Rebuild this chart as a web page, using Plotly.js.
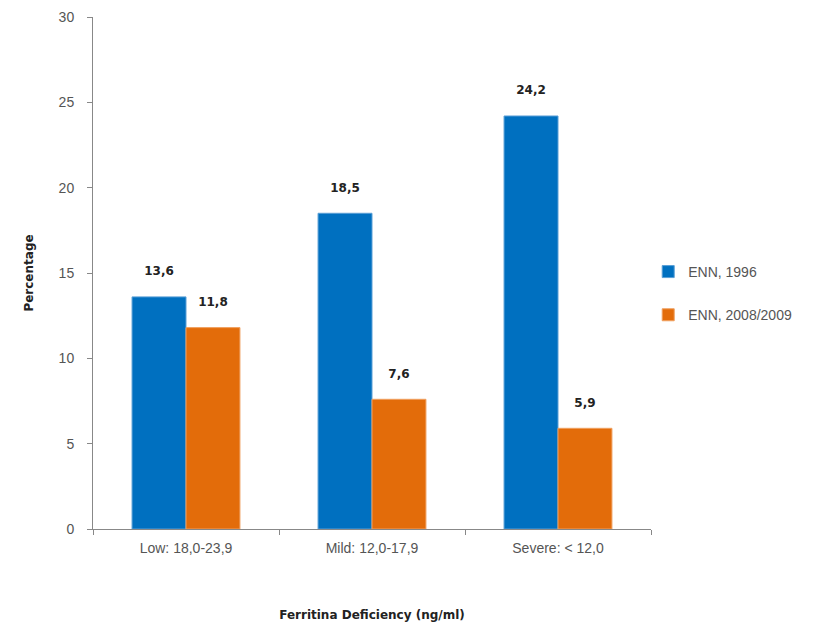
<!DOCTYPE html>
<html><head><meta charset="utf-8">
<script src="https://cdn.plot.ly/plotly-3.0.1.min.js"></script>
<style>html,body{margin:0;padding:0;background:#fff}</style>
</head><body>
<div id="chart" style="width:835px;height:626px"></div>
<script>
const categories = ["Low: 18,0-23,9", "Mild: 12,0-17,9", "Severe: < 12,0"];
const series1Name = "ENN, 1996";
const series1Values = [13.6, 18.5, 24.2];
const series2Name = "ENN, 2008/2009";
const series2Values = [11.8, 7.6, 5.9];
const yTicks = [0, 5, 10, 15, 20, 25, 30];

const labelFont = {family: "DejaVu Sans, Open Sans, sans-serif", size: 12, color: "#222"};
function barTrace(name, vals, color, grp) {
  return {
    type: "bar", name: name, x: categories, y: vals,
    marker: {color: color, line: {color: color === "#0070C0" ? "#5a9fd6" : "#f0a060", width: 1}},
    texttemplate: "<b>%{y:.1f}</b><br> ", textposition: "outside", cliponaxis: false,
    textfont: labelFont, legendgroup: grp, hoverinfo: "skip"
  };
}
const data = [
  barTrace(series1Name, series1Values, "#0070C0", "a"),
  barTrace(series2Name, series2Values, "#E36C0A", "b")
];
const layout = {
  width: 835, height: 626,
  margin: {l: 93, r: 184, t: 17, b: 97},
  paper_bgcolor: "#fff", plot_bgcolor: "#fff",
  separators: ",.",
  barmode: "group", bargap: 0.42, bargroupgap: 0,
  font: {family: "Liberation Sans, Arial, sans-serif", size: 14, color: "#555"},
  showlegend: true,
  legend: {x: 0.995, y: 0.46, xanchor: "left", yanchor: "middle", traceorder: "grouped",
           tracegroupgap: 22, font: {size: 14, color: "#555"}, itemwidth: 30},
  xaxis: {
    type: "category", showline: true, linecolor: "#888", linewidth: 1,
    ticks: "outside", tickson: "boundaries", ticklen: 5, tickcolor: "#888",
    showgrid: false, tickfont: {size: 14, color: "#555"}, ticklabelstandoff: 6,
    title: {text: "<b>Ferritina Deficiency (ng/ml)</b>", standoff: 55,
            font: {family: "DejaVu Sans, Open Sans, sans-serif", size: 12, color: "#222"}}
  },
  yaxis: {
    range: [0, 30], tickvals: yTicks, showline: true, linecolor: "#888", linewidth: 1,
    ticks: "outside", ticklen: 5, tickcolor: "#888", showgrid: false, zeroline: false,
    tickfont: {size: 14, color: "#555"}, ticklabelstandoff: 10,
    title: {text: "<b>Percentage</b>", standoff: 22,
            font: {family: "DejaVu Sans, Open Sans, sans-serif", size: 12, color: "#222"}}
  }
};
Plotly.newPlot("chart", data, layout, {displayModeBar: false, staticPlot: true});
</script>
</body></html>
